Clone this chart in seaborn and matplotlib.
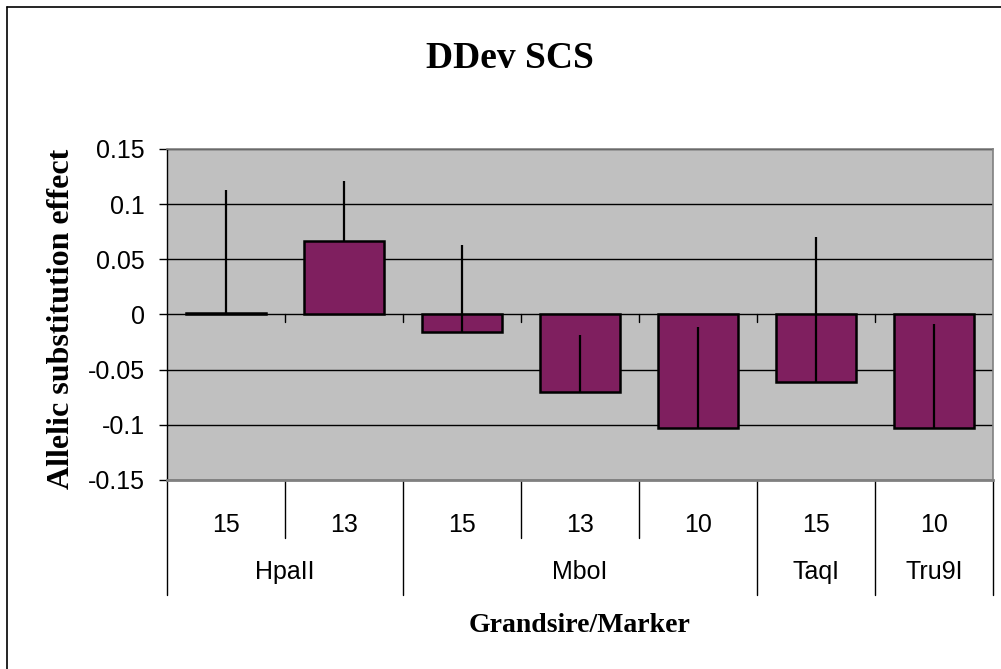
import numpy as np
import pandas as pd
import matplotlib
matplotlib.use("Agg")
import matplotlib.pyplot as plt
import matplotlib.transforms as mtransforms
from matplotlib.lines import Line2D
import seaborn as sns

# ---- data ----
categories = ["15", "13", "15", "13", "10", "15", "10"]
groups = ["HpaII", "MboI", "TaqI", "Tru9I"]
group_sizes = [2, 3, 1, 1]
values = [0.0015, 0.067, -0.0157, -0.0706, -0.1033, -0.0615, -0.1033]
err_upper = [0.111, 0.054, 0.079, 0.052, 0.092, 0.132, 0.095]
ytick_values = [-0.15, -0.1, -0.05, 0, 0.05, 0.1, 0.15]
ytick_labels = ["-0.15", "-0.1", "-0.05", "0", "0.05", "0.1", "0.15"]
title = "DDev SCS"
xlabel = "Grandsire/Marker"
ylabel = "Allelic substitution effect"

sns.set_style("white")
plt.rcParams["font.family"] = ["Liberation Sans", "DejaVu Sans"]

W, H = 1001, 669
fig = plt.figure(figsize=(W / 100, H / 100), dpi=100)
ax_l, ax_r, ax_t, ax_b = 167, 993, 149, 480
ax = fig.add_axes([ax_l / W, 1 - ax_b / H, (ax_r - ax_l) / W, (ax_b - ax_t) / H])
ax_h = ax_b - ax_t

df = pd.DataFrame({"pos": np.arange(len(values)), "value": values})
sns.barplot(data=df, x="pos", y="value", color="#7F1F5F", saturation=1,
            width=0.67, edgecolor="black", linewidth=1.8, errorbar=None, ax=ax, zorder=3)

xs = np.arange(len(values))
ax.errorbar(xs, values, yerr=[np.zeros(len(values)), err_upper], fmt="none",
            ecolor="black", elinewidth=1.6, capsize=0, zorder=4)

ax.set_facecolor("#C0C0C0")
ax.set_xlim(-0.5, len(values) - 0.5)
ax.set_ylim(-0.15, 0.15)
ax.set_yticks(ytick_values)
ax.set_yticklabels(ytick_labels, fontsize=18)
ax.set_xticks([])
ax.set_xlabel("")
ax.set_ylabel("")
ax.set_axisbelow(True)
ax.yaxis.grid(True, color="black", linewidth=1.0)
ax.tick_params(axis="y", direction="out", length=6, width=1, pad=10,
               left=True, color="black", labelcolor="black")

for s in ["top", "right"]:
    ax.spines[s].set_color("#808080")
    ax.spines[s].set_linewidth(1.2)
ax.spines["bottom"].set_color("#808080")
ax.spines["bottom"].set_linewidth(2.0)
ax.spines["left"].set_color("black")
ax.spines["left"].set_linewidth(1.0)
for s in ax.spines.values():
    s.set_visible(True)

# small tick marks on the zero line at category boundaries
for b in np.arange(0.5, len(values) - 0.5, 1.0):
    ax.add_line(Line2D([b, b], [0, -8 / ax_h * 0.3], color="black", lw=1, zorder=2))

# category label table below the plot
trans = mtransforms.blended_transform_factory(ax.transData, ax.transAxes)
group_bounds = np.concatenate([[0], np.cumsum(group_sizes)]) - 0.5
for b in np.arange(-0.5, len(values) + 0.5, 1.0):
    is_group = np.any(np.isclose(group_bounds, b))
    y_end = -115 / ax_h if is_group else -58 / ax_h
    ax.add_line(Line2D([b, b], [0, y_end], transform=trans, color="black",
                       lw=1, clip_on=False))
for x, lab in zip(xs, categories):
    ax.text(x, -45 / ax_h, lab, transform=trans, ha="center", va="center",
            fontsize=18, color="black")
for i, g in enumerate(groups):
    mid = (group_bounds[i] + group_bounds[i + 1]) / 2
    ax.text(mid, -92 / ax_h, g, transform=trans, ha="center", va="center",
            fontsize=18, color="black")

serif = ["Liberation Serif", "DejaVu Serif"]
fig.text(510 / W, 1 - 59 / H, title, ha="center", va="center", fontsize=27,
         fontweight="bold", family=serif, color="black")
fig.text(580 / W, 1 - 625 / H, xlabel, ha="center", va="center", fontsize=20,
         fontweight="bold", family=serif, color="black")
fig.text(62 / W, 1 - 319 / H, ylabel, ha="center", va="center", fontsize=23,
         fontweight="bold", family=serif, rotation=90, color="black")

# chart area border (left and top visible)
fig.add_artist(Line2D([6.5 / W, 6.5 / W], [0, 1 - 7 / H], color="black", lw=1.2))
fig.add_artist(Line2D([6.5 / W, 1], [1 - 7 / H, 1 - 7 / H], color="black", lw=1.2))

fig.savefig("out.png", dpi=100)
